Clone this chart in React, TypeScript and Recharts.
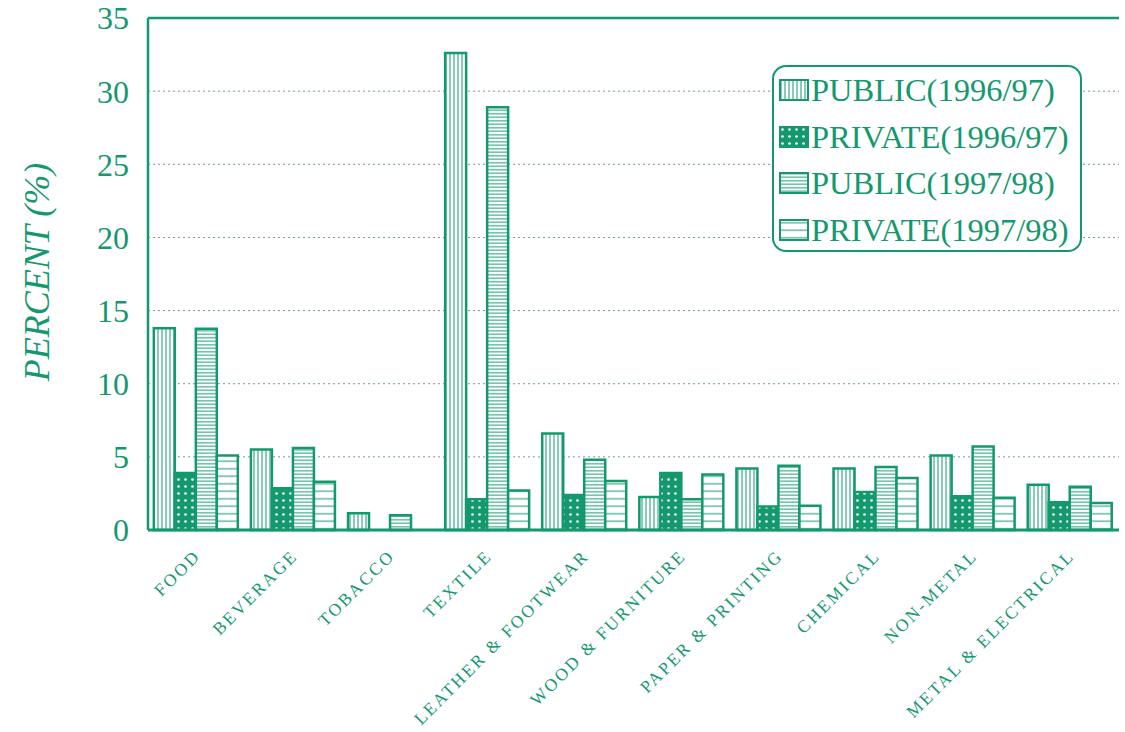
import React from 'react';
import { BarChart, Bar, XAxis, YAxis, CartesianGrid, ReferenceLine, Legend } from 'recharts';

const categories = ['FOOD', 'BEVERAGE', 'TOBACCO', 'TEXTILE', 'LEATHER & FOOTWEAR', 'WOOD & FURNITURE', 'PAPER & PRINTING', 'CHEMICAL', 'NON-METAL', 'METAL & ELECTRICAL'];
const public9697 = [13.8, 5.5, 1.15, 32.6, 6.6, 2.25, 4.2, 4.2, 5.1, 3.1];
const private9697 = [3.9, 2.85, 0, 2.1, 2.4, 3.9, 1.6, 2.6, 2.3, 1.9];
const public9798 = [13.75, 5.6, 1.0, 28.9, 4.8, 2.1, 4.4, 4.3, 5.7, 2.95];
const private9798 = [5.1, 3.3, 0, 2.7, 3.35, 3.8, 1.65, 3.55, 2.2, 1.85];
const yTicks = [0, 5, 10, 15, 20, 25, 30, 35];
const seriesNames = ['PUBLIC(1996/97)', 'PRIVATE(1996/97)', 'PUBLIC(1997/98)', 'PRIVATE(1997/98)'];
const seriesKeys = ['pub9697', 'priv9697', 'pub9798', 'priv9798'];
const patternIds = ['patV', 'patDot', 'patH', 'patH2'];

const data = categories.map((c, i) => ({
  name: c,
  pub9697: public9697[i],
  priv9697: private9697[i],
  pub9798: public9798[i],
  priv9798: private9798[i],
}));

const GREEN = '#14996e';
const FONT = '"Liberation Serif", "DejaVu Serif", serif';

const Patterns = ({ suffix }: { suffix: string }) => (
  <defs>
    <pattern id={'patV' + suffix} width="4" height="4" patternUnits="userSpaceOnUse">
      <rect width="4" height="4" fill="#fff" />
      <line x1="2" y1="0" x2="2" y2="4" stroke={GREEN} strokeWidth="1" />
    </pattern>
    <pattern id={'patDot' + suffix} width="7" height="7" patternUnits="userSpaceOnUse">
      <rect width="7" height="7" fill={GREEN} />
      <circle cx="3.5" cy="3.5" r="1.3" fill="#fff" />
    </pattern>
    <pattern id={'patH' + suffix} width="4" height="3.5" patternUnits="userSpaceOnUse">
      <rect width="4" height="3.5" fill="#fff" />
      <line x1="0" y1="1.75" x2="4" y2="1.75" stroke={GREEN} strokeWidth="1" />
    </pattern>
    <pattern id={'patH2' + suffix} width="8" height="7.5" patternUnits="userSpaceOnUse">
      <rect width="8" height="7.5" fill="#fff" />
      <line x1="0" y1="3.75" x2="8" y2="3.75" stroke={GREEN} strokeWidth="1" />
    </pattern>
  </defs>
);

const XTick = (props: any) => {
  const { x, y, payload } = props;
  return (
    <g transform={`translate(${x + 5},${y + 25})`}>
      <text
        textAnchor="end"
        transform="rotate(-45)"
        fill={GREEN}
        fontSize={17.5}
        letterSpacing={2.3}
        fontFamily={FONT}
      >
        {payload.value}
      </text>
    </g>
  );
};

const LegendBox = () => (
  <div
    style={{
      width: 306,
      height: 183,
      border: `2.5px solid ${GREEN}`,
      borderRadius: 14,
      background: '#fff',
      boxSizing: 'content-box',
    }}
  >
    {seriesNames.map((n, i) => (
      <div key={n} style={{ display: 'flex', alignItems: 'center', height: 46.5 }}>
        <svg width={30} height={22} style={{ marginLeft: 5, marginRight: 2 }}>
          <Patterns suffix="-lg" />
          <rect x={1} y={1} width={28} height={20} fill={`url(#${patternIds[i]}-lg)`} stroke={GREEN} strokeWidth={2} />
        </svg>
        <span style={{ fontFamily: FONT, fontSize: 32.5, color: GREEN, lineHeight: 1, whiteSpace: 'nowrap' }}>{n}</span>
      </div>
    ))}
  </div>
);

export default function App() {
  return (
    <div style={{ position: 'absolute', left: 0, top: 0, width: 1125, height: 732, background: '#fff' }}>
      <BarChart
        width={1125}
        height={732}
        data={data}
        margin={{ top: 18, right: 6, bottom: 0, left: 0 }}
        barGap={0}
        barCategoryGap="6%"
      >
        <Patterns suffix="" />
        <CartesianGrid vertical={false} stroke="#6f9c8f" strokeDasharray="2 3" strokeWidth={1} />
        <XAxis
          dataKey="name"
          height={202}
          interval={0}
          tick={<XTick />}
          tickLine={false}
          tickSize={0}
          axisLine={{ stroke: GREEN, strokeWidth: 3 }}
        />
        <YAxis
          width={148}
          domain={[0, 35]}
          ticks={yTicks}
          interval={0}
          tickLine={false}
          tickSize={0}
          tickMargin={19}
          axisLine={{ stroke: GREEN, strokeWidth: 2.5 }}
          tick={{ fill: GREEN, fontSize: 32, fontFamily: FONT }}
          label={{
            content: () => (
              <text
                x={0}
                y={0}
                transform="translate(49,272) rotate(-90)"
                textAnchor="middle"
                fill={GREEN}
                fontSize={36}
                fontStyle="italic"
                fontFamily={FONT}
              >
                PERCENT (%)
              </text>
            ),
          }}
        />
        <YAxis
          yAxisId="right"
          orientation="right"
          width={0}
          domain={[0, 35]}
          tick={false}
          tickLine={false}
          axisLine={{ stroke: GREEN, strokeWidth: 2.5 }}
        />
        <ReferenceLine y={35} stroke={GREEN} strokeWidth={2.5} />
        {seriesKeys.map((k, i) => (
          <Bar
            key={k}
            dataKey={k}
            name={seriesNames[i]}
            fill={`url(#${patternIds[i]})`}
            stroke={GREEN}
            strokeWidth={2.5}
            isAnimationActive={false}
          />
        ))}
        <Legend
          layout="vertical"
          align="center"
          verticalAlign="middle"
          content={() => <LegendBox />}
          wrapperStyle={{ position: 'absolute', left: 772, top: 65, width: 311, height: 188 }}
        />
      </BarChart>
    </div>
  );
}
